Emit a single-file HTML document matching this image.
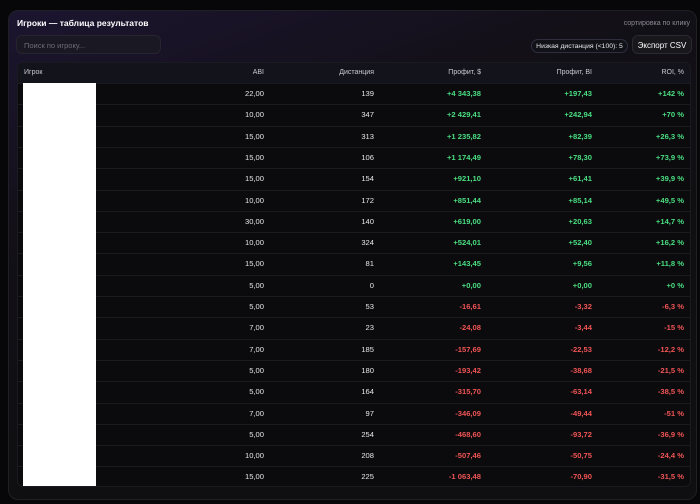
<!DOCTYPE html>
<html><head><meta charset="utf-8"><style>
body{margin:0;width:700px;height:504px;background:#07070a;font-family:"Liberation Sans","Noto Sans CJK SC",sans-serif;overflow:hidden;position:relative}
.card{position:absolute;left:8px;top:10px;width:687px;height:488px;border-radius:10px;background:linear-gradient(160deg,#1c1530 0%,#131018 30%,#0f0f12 60%);border:1px solid #1f1f26}
.title{position:absolute;left:17px;top:18px;color:#fff;font-weight:bold;font-size:8.5px}
.sort{position:absolute;right:10px;top:20px;color:#8a8a94;font-size:7px}
.search{position:absolute;left:16px;top:35px;width:145px;height:19px;border-radius:6px;background:#1a1822;border:1px solid #26242e;color:#6e6e78;font-size:7.5px;line-height:19px;padding-left:7px;box-sizing:border-box}
.pill{position:absolute;left:531px;top:39px;width:97px;height:14px;border-radius:7px;background:#111118;border:1px solid #2e2e40;color:#e8e8ee;font-size:6.8px;line-height:14px;text-align:center;box-sizing:border-box}
.btn{position:absolute;left:632px;top:35px;width:60px;height:19px;border-radius:6px;background:#17171c;border:1px solid #2a2a30;color:#fff;font-size:8px;line-height:19px;text-align:center;box-sizing:border-box}
.table{position:absolute;left:17px;top:62px;width:674px;height:425px;border-radius:6px;background:#0b0b0e;border:1px solid #1a1a20;overflow:hidden;box-sizing:border-box}
.hdr{position:absolute;left:0;top:0;width:100%;height:20px;background:#13131c;color:#c8c8d0;font-size:7px}
.row{position:absolute;left:0;width:100%;height:21px;border-top:1px solid #1a1a20;font-size:7.6px;color:#e6e6ea;box-sizing:border-box}
.c{position:absolute;top:0;line-height:20px;text-align:right}
.pos{color:#4ade80;font-weight:bold}.neg{color:#f05454;font-weight:bold}
.mask{position:absolute;left:5px;top:20px;width:73px;height:405px;background:#fff}
</style></head><body>
<div class="card"></div>
<div class="title">Игроки — таблица результатов</div>
<div class="sort">сортировка по клику</div>
<div class="search">Поиск по игроку...</div>
<div class="pill">Низкая дистанция (&lt;100): 5</div>
<div class="btn">Экспорт CSV</div>
<div class="table" id="tbl">
<div class="hdr">
<span class="c" style="left:6px;text-align:left">Игрок</span>
<span class="c" style="right:426px">ABI</span>
<span class="c" style="right:316px">Дистанция</span>
<span class="c" style="right:209px">Профит, $</span>
<span class="c" style="right:98px">Профит, BI</span>
<span class="c" style="right:6px">ROI, %</span>
</div>
</div>
<script>
const abi=["22,00","10,00","15,00","15,00","15,00","10,00","30,00","10,00","15,00","5,00","5,00","7,00","7,00","5,00","5,00","7,00","5,00","10,00","15,00"];
const dist=[139,347,313,106,154,172,140,324,81,0,53,23,185,180,164,97,254,208,225];
const profitUsd=["+4 343,38","+2 429,41","+1 235,82","+1 174,49","+921,10","+851,44","+619,00","+524,01","+143,45","+0,00","-16,61","-24,08","-157,69","-193,42","-315,70","-346,09","-468,60","-507,46","-1 063,48"];
const profitBi=["+197,43","+242,94","+82,39","+78,30","+61,41","+85,14","+20,63","+52,40","+9,56","+0,00","-3,32","-3,44","-22,53","-38,68","-63,14","-49,44","-93,72","-50,75","-70,90"];
const roi=["+142 %","+70 %","+26,3 %","+73,9 %","+39,9 %","+49,5 %","+14,7 %","+16,2 %","+11,8 %","+0 %","-6,3 %","-15 %","-12,2 %","-21,5 %","-38,5 %","-51 %","-36,9 %","-24,4 %","-31,5 %"];
const tbl=document.getElementById('tbl');
const cols=[[426,abi,false],[316,dist,false],[209,profitUsd,true],[98,profitBi,true],[6,roi,true]];
const names=['abi','distance','profit-usd','profit-bi','roi'];
for(let i=0;i<abi.length;i++){
 const r=document.createElement('div');r.className='row';r.style.top=(20+i*21.3)+'px';
 
 
 cols.forEach((c,j)=>{const s=document.createElement('span');s.className='c';s.style.right=c[0]+'px';
  const v=String(c[1][i]);s.textContent=v;
  if(c[2])s.classList.add(v[0]==='-'?'neg':'pos');
  
  
  r.appendChild(s);});
 tbl.appendChild(r);
}
const m=document.createElement('div');m.className='mask';


tbl.appendChild(m);
</script>
</body></html>
